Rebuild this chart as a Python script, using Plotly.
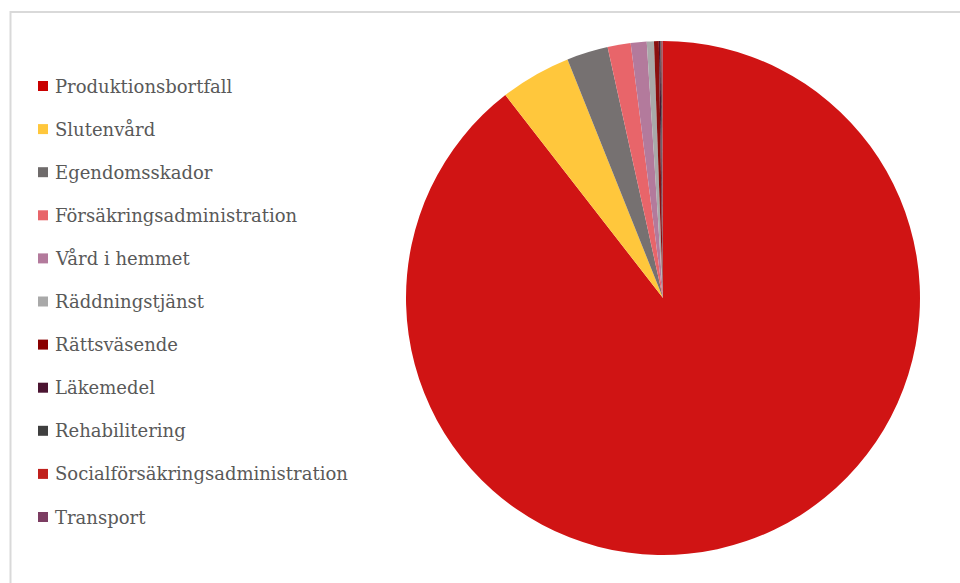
import plotly.graph_objects as go

# Cost shares (percent of total), clockwise from 12 o'clock
labels = [
    "Produktionsbortfall",
    "Slutenvård",
    "Egendomsskador",
    "Försäkringsadministration",
    "Vård i hemmet",
    "Räddningstjänst",
    "Rättsväsende",
    "Läkemedel",
    "Rehabilitering",
    "Socialförsäkringsadministration",
    "Transport",
]
values = [89.5, 4.45, 2.6, 1.45, 1.0, 0.45, 0.3, 0.1, 0.07, 0.06, 0.03]
colors = [
    "#d01414", "#ffc73c", "#767171", "#e8656a", "#b37a9c", "#a9a9a9",
    "#8a0f0f", "#4b1431", "#3f3f3f", "#c0201c", "#7c3d62",
]
legend_colors = [
    "#c90000", "#ffc73c", "#6f6b6b", "#e8656a", "#b37a9c", "#a9a9a9",
    "#8a0000", "#4b1431", "#3f3f3f", "#c0201c", "#7c3d62",
]

W, H = 960, 583
cx, cy, r = 663, 298, 257
FONT = "DejaVu Serif"

fig = go.Figure()
fig.add_trace(go.Pie(
    labels=labels,
    values=values,
    sort=False,
    direction="clockwise",
    rotation=0,
    textinfo="none",
    hoverinfo="label+percent",
    marker=dict(colors=colors, line=dict(width=0)),
    domain=dict(x=[(cx - r) / W, (cx + r) / W], y=[1 - (cy + r) / H, 1 - (cy - r) / H]),
    showlegend=False,
))

# Legend drawn as swatches and labels
shapes = []
annotations = []
y_first, step = 86, 43.1
for i, (lab, col) in enumerate(zip(labels, legend_colors)):
    yc = y_first + i * step
    shapes.append(dict(
        type="rect", xref="paper", yref="paper",
        x0=38 / W, x1=48 / W, y0=1 - (yc + 5) / H, y1=1 - (yc - 5) / H,
        fillcolor=col, line=dict(width=0),
    ))
    annotations.append(dict(
        x=53 / W, y=1 - yc / H, xref="paper", yref="paper",
        xanchor="left", yanchor="middle", showarrow=False, text=lab,
        font=dict(family=FONT, size=18, color="#595959"),
    ))

# Chart area border
shapes.append(dict(
    type="rect", xref="paper", yref="paper",
    x0=10.5 / W, x1=1.02, y0=-0.02, y1=1 - 12 / H,
    line=dict(color="#d9d9d9", width=2), fillcolor="rgba(0,0,0,0)", layer="below",
))

fig.update_layout(
    width=W, height=H,
    margin=dict(l=0, r=0, t=0, b=0),
    paper_bgcolor="white",
    plot_bgcolor="white",
    font=dict(family=FONT),
    shapes=shapes,
    annotations=annotations,
)

fig.write_html("out.html")
